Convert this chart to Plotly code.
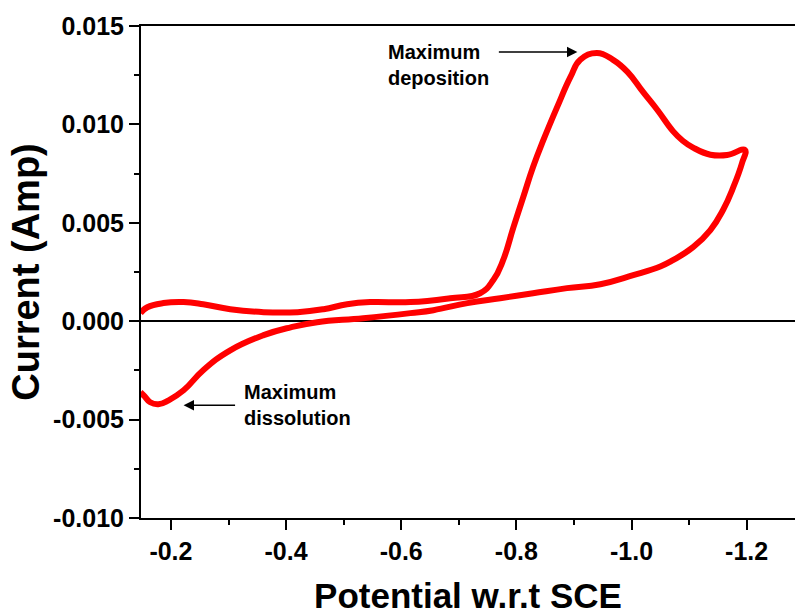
import plotly.graph_objects as go

# Cyclic voltammogram (potential V vs SCE, current A)
potential = [-0.147, -0.159, -0.187, -0.222, -0.256, -0.303, -0.361, -0.420, -0.465, -0.506,
             -0.546, -0.616, -0.685, -0.737, -0.760, -0.777, -0.795, -0.812, -0.829, -0.847,
             -0.871, -0.894, -0.911, -0.940, -0.968, -0.993, -1.020, -1.045, -1.072, -1.089,
             -1.107, -1.137, -1.166, -1.197,
             -1.192, -1.177, -1.159, -1.137, -1.107, -1.072, -1.050, -1.003, -0.946, -0.888,
             -0.829, -0.772, -0.715, -0.656, -0.616, -0.534, -0.454, -0.408, -0.361, -0.303,
             -0.256, -0.222, -0.196, -0.178, -0.164, -0.154, -0.147]
current = [0.00041, 0.00071, 0.00092, 0.00097, 0.00086, 0.00061, 0.00046, 0.00046, 0.00061, 0.00086,
           0.00097, 0.00097, 0.00117, 0.00142, 0.00209, 0.00310, 0.00478, 0.00631, 0.00783, 0.00921,
           0.01089, 0.01241, 0.01328, 0.01363, 0.01328, 0.01267, 0.01165, 0.01073, 0.00966, 0.00917,
           0.00882, 0.00846, 0.00844, 0.00870,
           0.00804, 0.00682, 0.00565, 0.00463, 0.00376, 0.00310, 0.00278, 0.00234, 0.00188, 0.00168,
           0.00142, 0.00117, 0.00092, 0.00056, 0.00041, 0.00015, -0.00005, -0.00031, -0.00071, -0.00148,
           -0.00249, -0.00351, -0.00402, -0.00422, -0.00412, -0.00381, -0.00361]

x_ticks = [-0.2, -0.4, -0.6, -0.8, -1.0, -1.2]
x_ticktext = ["-0.2", "-0.4", "-0.6", "-0.8", "-1.0", "-1.2"]
x_minor = [-0.3, -0.5, -0.7, -0.9, -1.1]
y_ticks = [-0.010, -0.005, 0.000, 0.005, 0.010, 0.015]
y_ticktext = ["-0.010", "-0.005", "0.000", "0.005", "0.010", "0.015"]
y_minor = [-0.0075, -0.0025, 0.0025, 0.0075, 0.0125]

dep_text = "Maximum<br>deposition"
dep_text_pos = (-0.574, 0.01302)
dep_arrow_tail = (-0.767, 0.01368)
dep_arrow_head = (-0.906, 0.01368)
dis_text = "Maximum<br>dissolution"
dis_text_pos = (-0.324, -0.00427)
dis_arrow_tail = (-0.314, -0.00427)
dis_arrow_head = (-0.222, -0.00427)

FONT = "Liberation Sans"

fig = go.Figure()
fig.add_trace(go.Scatter(x=potential, y=current, mode="lines",
                         line=dict(color="#ff0000", width=6, shape="spline", smoothing=1.3),
                         showlegend=False, hoverinfo="skip"))

fig.update_layout(
    width=795, height=615,
    margin=dict(l=141, r=0, t=26, b=97, autoexpand=False),
    paper_bgcolor="white", plot_bgcolor="white",
    font=dict(family=FONT, color="black"),
    xaxis=dict(range=[-0.148, -1.284], showgrid=False, zeroline=False,
               showline=True, linecolor="black", linewidth=2, mirror=True,
               ticks="outside", ticklen=10, tickwidth=2, tickcolor="black",
               tickvals=x_ticks, ticktext=x_ticktext,
               tickfont=dict(family=FONT, size=25, weight="bold"),
               minor=dict(tickvals=x_minor, ticks="outside", ticklen=5, tickwidth=2, tickcolor="black"),
               title=dict(text="Potential w.r.t SCE", font=dict(family=FONT, size=35, weight="bold"), standoff=22),
               automargin=False),
    yaxis=dict(range=[-0.010, 0.015], showgrid=False,
               zeroline=True, zerolinecolor="black", zerolinewidth=2,
               showline=True, linecolor="black", linewidth=2,
               ticks="outside", ticklen=10, tickwidth=2, tickcolor="black",
               tickvals=y_ticks, ticktext=y_ticktext,
               tickfont=dict(family=FONT, size=25, weight="bold"),
               minor=dict(tickvals=y_minor, ticks="outside", ticklen=5, tickwidth=2, tickcolor="black"),
               title=dict(text="Current (Amp)", font=dict(family=FONT, size=38, weight="bold"), standoff=2),
               automargin=False),
)

fig.add_annotation(x=dep_text_pos[0], y=dep_text_pos[1], text=dep_text, showarrow=False,
                   xanchor="left", yanchor="middle", align="left",
                   font=dict(family=FONT, size=20, weight="bold", color="black"))
fig.add_annotation(x=dis_text_pos[0], y=dis_text_pos[1], text=dis_text, showarrow=False,
                   xanchor="left", yanchor="middle", align="left",
                   font=dict(family=FONT, size=20, weight="bold", color="black"))
for tail, head in [(dep_arrow_tail, dep_arrow_head), (dis_arrow_tail, dis_arrow_head)]:
    fig.add_annotation(x=head[0], y=head[1], ax=tail[0], ay=tail[1],
                       xref="x", yref="y", axref="x", ayref="y",
                       text="", showarrow=True, arrowhead=2, arrowsize=1.6,
                       arrowwidth=1.3, arrowcolor="black")

fig.write_html("out.html")
